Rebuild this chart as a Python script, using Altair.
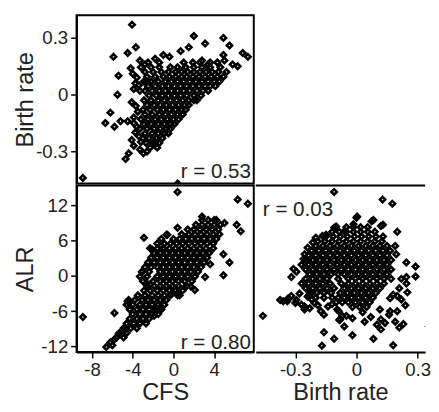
import altair as alt
import pandas as pd

FONT = "Liberation Sans"

# ---------------- top-left panel: CFS (x) vs Birth rate (y) ----------------
tl_core_rows = [
    (0.17, [-2.5, -1.4, 1.0, 1.9, 2.6, 3.6, 4.3]),
    (0.145, [-3.2, -2.2, -1.4, -0.3, 0.4, 1.2, 2.0, 2.8, 3.6, 4.6]),
    (0.12, [-2.8, -2.0, -1.2, -0.5, 0.2, 0.8, 1.4, 2.0, 2.6, 3.2, 3.8, 4.4, 5.2]),
    (0.095, [-2.6, -1.8, -1.0, -0.4, 0.2, 0.8, 1.3, 1.9, 2.5, 3.1, 3.7, 4.3, 4.9]),
    (0.07, [-2.9, -2.2, -1.5, -0.8, -0.2, 0.4, 1.0, 1.6, 2.2, 2.8, 3.4, 4.0, 4.5]),
    (0.045, [-2.5, -1.8, -1.1, -0.5, 0.1, 0.7, 1.3, 1.9, 2.5, 3.1, 3.6, 4.1]),
    (0.02, [-2.8, -2.1, -1.4, -0.8, -0.2, 0.4, 1.0, 1.6, 2.3, 2.9, 3.4]),
    (-0.005, [-2.4, -1.7, -1.1, -0.5, 0.1, 0.7, 1.3, 2.0, 2.7]),
    (-0.03, [-2.9, -2.2, -1.5, -0.9, -0.3, 0.3, 0.9, 1.5, 2.0]),
    (-0.055, [-2.6, -1.9, -1.3, -0.7, -0.1, 0.5, 1.1, 1.5]),
    (-0.08, [-3.0, -2.3, -1.6, -1.0, -0.4, 0.2, 0.8, 1.2]),
    (-0.105, [-2.8, -2.1, -1.4, -0.8, -0.2, 0.4, 0.9]),
    (-0.13, [-3.2, -2.5, -1.8, -1.2, -0.6, 0.0, 0.5]),
    (-0.155, [-2.9, -2.2, -1.5, -0.9, -0.3, 0.1]),
    (-0.18, [-3.3, -2.6, -1.9, -1.3, -0.7, -0.3]),
    (-0.205, [-2.8, -2.1, -1.5, -0.9, -0.5]),
    (-0.23, [-3.0, -2.4, -1.7, -1.1]),
    (-0.255, [-2.7, -2.0, -1.4]),
    (-0.28, [-2.3, -1.6]),
]
tl_outliers = [
    (-4.07, 0.37), (-5.9, 0.20), (-4.5, 0.22), (-3.7, 0.25), (-5.4, 0.10), (-5.5, 0.0),
    (-6.2, -0.095), (-6.7, -0.15), (-5.8, -0.17), (-5.2, -0.14), (-4.5, -0.14), (-3.9, -0.12),
    (-8.9, -0.44), (-4.7, -0.34), (-4.4, -0.31), (-3.9, -0.27), (-4.1, -0.24), (-3.75, -0.2),
    (-2.95, -0.31), (-1.8, -0.25), (-4.2, 0.14), (-3.3, 0.18), (-3.75, 0.06), (-4.1, -0.04),
    (-2.8, 0.16), (-1.8, 0.19), (-1.0, 0.21), (-3.3, 0.02), (-2.6, 0.07), (2.0, 0.31),
    (3.1, 0.27), (4.9, 0.30), (5.5, 0.26), (6.8, 0.22), (7.3, 0.20), (4.9, 0.21), (5.0, 0.18),
    (6.3, 0.15), (5.8, 0.16), (1.5, 0.25), (0.7, 0.23), (-0.4, 0.20), (2.8, 0.18), (3.4, 0.16),
    (2.3, -0.03), (0.4, -0.47), (-4.0, 0.11), (-3.6, 0.09), (-3.4, 0.05), (-3.9, 0.03),
    (-3.7, -0.06), (-3.5, -0.09), (-3.9, -0.15), (-3.6, -0.17), (-3.4, -0.22), (-3.2, -0.25),
    (-3.3, -0.29), (-2.6, -0.3), (-2.0, -0.25),
]

# ---------------- bottom-left panel: CFS (x) vs ALR (y) ----------------
bl_core_rows = [
    (9.5, [2.8, 3.4, 4.0]),
    (8.7, [2.2, 2.8, 3.4, 4.0, 4.6]),
    (7.9, [1.4, 2.0, 2.6, 3.2, 3.8, 4.4]),
    (7.1, [0.8, 1.5, 2.1, 2.7, 3.3, 3.9, 4.5]),
    (6.3, [-1.2, 0.0, 0.6, 1.2, 1.8, 2.4, 3.0, 3.6, 4.2]),
    (5.5, [-1.6, -0.9, -0.3, 0.3, 0.9, 1.5, 2.1, 2.7, 3.3, 3.9]),
    (4.7, [-2.3, -1.6, -1.0, -0.4, 0.2, 0.8, 1.4, 2.0, 2.6, 3.2, 3.9]),
    (3.9, [-1.9, -1.3, -0.7, -0.1, 0.5, 1.1, 1.7, 2.3, 2.9, 3.5]),
    (3.1, [-2.2, -1.6, -1.0, -0.4, 0.2, 0.8, 1.4, 2.0, 2.6, 3.3]),
    (2.3, [-2.5, -1.9, -1.3, -0.7, -0.1, 0.5, 1.1, 1.7, 2.3, 3.0]),
    (1.5, [-2.8, -2.2, -1.6, -1.0, -0.4, 0.2, 0.8, 1.4, 2.0, 2.7]),
    (0.7, [-3.1, -2.4, -1.3, -0.7, -0.1, 0.5, 1.1, 1.7, 2.4]),
    (-0.1, [-3.3, -2.6, -1.6, -1.0, -0.4, 0.2, 0.8, 1.4, 2.1]),
    (-0.9, [-3.0, -2.0, -1.3, -0.7, -0.1, 0.5, 1.1, 1.8]),
    (-1.7, [-2.6, -1.9, -1.3, -0.7, -0.1, 0.5, 1.3]),
    (-2.5, [-2.9, -2.3, -1.6, -1.0, -0.4, 0.2, 0.9]),
    (-3.3, [-3.5, -2.8, -2.1, -1.5, -0.9, -0.3, 0.4]),
    (-4.1, [-4.4, -3.8, -3.1, -2.5, -1.9, -1.3, -0.7]),
    (-4.9, [-4.6, -4.0, -3.3, -2.7, -2.1, -1.5, -0.9]),
    (-5.7, [-4.3, -3.6, -3.0, -2.4, -1.8, -1.2]),
    (-6.5, [-4.0, -3.3, -2.7, -2.1, -1.5]),
    (-7.3, [-4.3, -3.6, -3.0, -2.4]),
    (-8.1, [-4.6, -3.9, -3.3, -2.7]),
    (-8.9, [-4.9, -4.2, -3.6]),
    (-9.7, [-5.3, -4.6]),
    (-10.5, [-5.6, -4.9]),
]
bl_outliers = [
    (-8.9, -7.0), (-5.8, -6.3), (-2.9, 6.5), (-0.7, 7.0), (-6.6, -12.1), (-6.2, -11.3),
    (-5.4, -9.9), (-4.7, -9.1), (-6.0, -11.8), (-5.8, -10.8), (-4.5, -4.3), (-3.1, 0.7),
    (-2.6, -1.3), (-2.1, 4.5), (-1.2, 5.1), (-1.7, -6.0), (-1.4, -5.5), (0.4, 14.3),
    (6.3, 13.0), (7.3, 12.3), (0.4, 8.2), (-0.6, 7.0), (2.8, 10.1), (4.2, 9.5), (5.0, 9.0),
    (6.2, 8.7), (6.6, 7.6), (4.9, 3.7), (5.5, 2.3), (4.9, 0.1), (3.1, -0.2), (3.6, 2.0),
    (2.1, -2.4), (1.2, -1.8), (0.6, -3.3), (-0.2, -3.0), (1.7, -1.8), (0.4, -2.9), (-1.9, -6.8),
]

# ---------------- bottom-right panel: Birth rate (x) vs ALR (y) ----------------
br_core_rows = [
    (8.3, [-0.05, -0.015, 0.02, 0.055]),
    (7.5, [-0.12, -0.085, -0.05, -0.015, 0.02, 0.055, 0.09]),
    (6.7, [-0.15, -0.115, -0.08, -0.045, -0.01, 0.025, 0.06, 0.095, 0.13]),
    (5.9, [-0.19, -0.155, -0.12, -0.085, -0.05, -0.015, 0.02, 0.055, 0.09, 0.125]),
    (5.1, [-0.2, -0.165, -0.13, -0.095, -0.06, -0.025, 0.01, 0.045, 0.08, 0.115, 0.15]),
    (4.3, [-0.22, -0.185, -0.15, -0.115, -0.08, -0.045, -0.01, 0.025, 0.06, 0.095, 0.13, 0.165]),
    (3.5, [-0.235, -0.2, -0.165, -0.13, -0.095, -0.06, -0.025, 0.01, 0.045, 0.08, 0.115, 0.15]),
    (2.7, [-0.25, -0.215, -0.18, -0.145, -0.11, -0.075, -0.04, -0.005, 0.03, 0.065, 0.1, 0.135, 0.17]),
    (1.9, [-0.27, -0.235, -0.2, -0.165, -0.13, -0.095, -0.06, -0.025, 0.01, 0.045, 0.08, 0.115, 0.15]),
    (1.1, [-0.25, -0.215, -0.18, -0.145, -0.11, -0.075, -0.04, -0.005, 0.03, 0.065, 0.1, 0.135, 0.17]),
    (0.3, [-0.23, -0.195, -0.16, -0.125, -0.09, -0.06, -0.025, 0.01, 0.045, 0.08, 0.115, 0.15]),
    (-0.5, [-0.25, -0.215, -0.18, -0.145, -0.09, -0.04, -0.005, 0.03, 0.065, 0.1, 0.135, 0.17]),
    (-1.3, [-0.27, -0.235, -0.2, -0.165, -0.13, -0.075, -0.04, -0.005, 0.03, 0.065, 0.1, 0.135]),
    (-2.1, [-0.25, -0.215, -0.18, -0.145, -0.11, -0.06, -0.025, 0.01, 0.045, 0.08, 0.115]),
    (-2.9, [-0.23, -0.195, -0.16, -0.125, -0.08, -0.045, -0.01, 0.025, 0.06, 0.095]),
    (-3.7, [-0.2, -0.16, -0.12, -0.09, -0.06, -0.025, 0.01, 0.045, 0.08]),
    (-4.5, [-0.1, -0.07, -0.04, -0.005, 0.03, 0.065]),
    (-5.3, [-0.02, 0.015, 0.05]),
]
br_outliers = [
    (-0.11, 14.3), (-0.46, -6.8), (-0.16, -9.6), (-0.11, -10.7), (-0.17, -11.9), (-0.36, -4.3),
    (-0.335, -3.8), (-0.295, -4.1), (-0.255, -5.2), (-0.23, -3.2), (-0.175, -6.0), (-0.32, -0.2),
    (-0.295, 0.7), (-0.26, 2.9), (-0.24, 4.8), (-0.2, 6.5), (-0.15, 7.0), (-0.11, 8.2),
    (-0.087, -6.0), (-0.08, -7.4), (0.128, 13.0), (0.176, 12.3), (0.003, 10.1), (0.083, 9.5),
    (0.13, 8.7), (0.2, 7.5), (0.19, 5.1), (0.245, 2.3), (0.29, 1.6), (0.22, -0.5), (0.245, -0.2),
    (0.29, -0.1), (0.355, -8.6), (0.083, -10.7), (0.18, -11.8), (-0.02, -10.1), (0.21, -8.8),
    (0.23, -8.2), (0.12, -9.1), (0.165, -6.0), (0.115, -5.7), (-0.05, -6.8), (0.195, 3.7),
    (0.245, -1.3), (0.21, -2.1), (0.18, -3.2), (0.165, -3.8), (-0.31, 1.2), (-0.255, 3.7),
    (-0.215, 5.7), (-0.167, 6.8), (-0.1, 8.4), (-0.06, 7.6), (-0.375, -4.1), (-0.34, -4.3),
    (-0.27, -4.9), (-0.24, -3.5), (-0.207, -4.6), (-0.255, -5.7), (-0.16, -6.6), (-0.095, -5.7),
    (-0.07, -6.8), (-0.085, -7.5), (0.0, 9.9), (0.074, 9.3), (0.12, 8.5), (-0.015, 8.8),
    (0.03, -6.2), (0.07, -7.0), (0.12, -7.4), (0.16, -6.6), (0.19, -7.8), (0.1, -8.3),
    (0.04, -7.8), (-0.02, -7.2), (0.14, -8.0), (0.2, -6.0), (0.24, -5.0), (0.22, -4.0),
    (0.25, -2.8), (0.2, -3.4), (-0.06, -8.6), (-0.32, -3.4), (-0.28, -3.0), (-0.3, -4.6),
    (-0.22, -4.0), (-0.19, -5.0), (-0.23, -5.5), (-0.14, -5.2), (-0.12, -4.8),
]

# correlation annotations
r_labels = ["r = 0.53", "r = 0.80", "r = 0.03"]

# tick values
br_ticks = [-0.3, 0, 0.3]
cfs_ticks = [-8, -4, 0, 4]
alr_ticks = [-12, -6, 0, 6, 12]


def build(rows, outliers):
    xs, ys = [], []
    for yv, xl in rows:
        for xv in xl:
            xs.append(xv)
            ys.append(yv)
    for xv, yv in outliers:
        xs.append(xv)
        ys.append(yv)
    return pd.DataFrame({"x": xs, "y": ys})


tl_df = build(tl_core_rows, tl_outliers)
bl_df = build(bl_core_rows, bl_outliers)
br_df = build(br_core_rows, br_outliers)

CFS_DOM = [-9.52, 7.88]
BR_Y_DOM = [-0.47, 0.42]
ALR_DOM = [-12.95, 15.38]
BR_X_DOM = [-0.495, 0.337]

dec_expr = "datum.value < 0 ? '-' + format(-datum.value, '.1~f') : format(datum.value, '.1~f')"
int_expr = "datum.value < 0 ? '-' + format(-datum.value, 'd') : format(datum.value, 'd')"

pt = dict(shape="diamond", size=30, filled=False, stroke="black",
          strokeWidth=2.6, opacity=1, clip=True)
txt = dict(fontSize=21, font=FONT, color="#222", baseline="alphabetic")

# top-left
tl_pts = alt.Chart(tl_df).mark_point(**pt).encode(
    x=alt.X("x:Q", scale=alt.Scale(domain=CFS_DOM, nice=False, zero=False), axis=None),
    y=alt.Y("y:Q", scale=alt.Scale(domain=BR_Y_DOM, nice=False, zero=False),
            axis=alt.Axis(title="Birth rate", values=br_ticks, labelExpr=dec_expr)),
)
tl_txt = alt.Chart(pd.DataFrame({"x": [7.6], "y": [-0.443], "t": [r_labels[0]]})).mark_text(
    align="right", **txt).encode(x="x:Q", y="y:Q", text="t:N")
tl = alt.layer(tl_pts, tl_txt).properties(width=181, height=172)

# bottom-left
bl_pts = alt.Chart(bl_df).mark_point(**pt).encode(
    x=alt.X("x:Q", scale=alt.Scale(domain=CFS_DOM, nice=False, zero=False),
            axis=alt.Axis(title="CFS", values=cfs_ticks, labelExpr=int_expr)),
    y=alt.Y("y:Q", scale=alt.Scale(domain=ALR_DOM, nice=False, zero=False),
            axis=alt.Axis(title="ALR", values=alr_ticks, labelExpr=int_expr)),
)
bl_txt = alt.Chart(pd.DataFrame({"x": [7.6], "y": [-12.37], "t": [r_labels[1]]})).mark_text(
    align="right", **txt).encode(x="x:Q", y="y:Q", text="t:N")
bl = alt.layer(bl_pts, bl_txt).properties(width=181, height=170)

# bottom-right
br_pts = alt.Chart(br_df).mark_point(**pt).encode(
    x=alt.X("x:Q", scale=alt.Scale(domain=BR_X_DOM, nice=False, zero=False),
            axis=alt.Axis(title="Birth rate", values=br_ticks, labelExpr=dec_expr)),
    y=alt.Y("y:Q", scale=alt.Scale(domain=ALR_DOM, nice=False, zero=False), axis=None),
)
br_txt = alt.Chart(pd.DataFrame({"x": [-0.46], "y": [10.2], "t": [r_labels[2]]})).mark_text(
    align="left", **txt).encode(x="x:Q", y="y:Q", text="t:N")
br_top = alt.Chart(pd.DataFrame({"a": [0]})).mark_rule(color="black", strokeWidth=2).encode(
    x=alt.value(0), x2=alt.value(173), y=alt.value(0))
br = alt.layer(br_pts, br_txt, br_top).properties(
    width=173, height=170, view=alt.ViewBackground(strokeWidth=0, stroke=None))

chart = alt.vconcat(
    tl,
    alt.hconcat(bl, br, spacing=0),
    spacing=0,
).properties(
    padding={"left": 5, "top": 2, "right": 0, "bottom": 5},
    background="white",
).configure_view(
    stroke="black", strokeWidth=2
).configure_axis(
    labelFont=FONT, titleFont=FONT, labelFontSize=19, titleFontSize=24,
    titleFontWeight="normal", labelColor="#222", titleColor="#222",
    domainColor="black", domainWidth=2, tickColor="black", tickWidth=1.5,
    tickSize=6, labelPadding=3, grid=False,
).configure_axisY(
    minExtent=40, maxExtent=40, titlePadding=0,
).configure_axisX(
    titlePadding=2,
)

chart.save("out.html", embed_options={"renderer": "svg", "actions": False})
